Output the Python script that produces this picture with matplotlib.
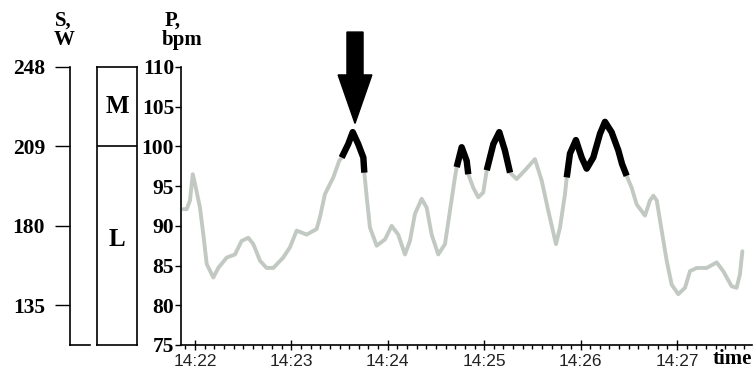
import numpy as np
import matplotlib
matplotlib.use('Agg')
import matplotlib.pyplot as plt
from matplotlib.ticker import MultipleLocator
from matplotlib.patches import FancyArrow

# pulse trace, seconds after 14:22:00 and bpm
t_sec = [-7.3, -5.2, -3.1, -1.4, 0, 3.1, 5.2, 7.3, 11.4, 14.5, 19.7, 24.9, 29.0, 33.2,
         36.3, 40.5, 44.6, 48.7, 54.9, 59.1, 63.3, 69.5, 75.7, 77.8, 80.9, 86.1, 89.8,
         91.3, 95.4, 98.2, 101.6, 104.8, 105.4, 106.9, 108.9, 113.1, 118.3, 122.4, 126.5,
         130.7, 133.8, 136.9, 141.1, 144.2, 147.3, 151.4, 155.6, 158.7, 161.8, 162.9,
         166.0, 169.1, 170.1, 173.2, 176.3, 179.4, 181.6, 185.7, 189.4, 192.9, 196.1,
         200.2, 205.4, 211.6, 215.8, 219.9, 224.7, 227.2, 230.3, 231.4, 233.4, 237.1,
         240.7, 243.8, 247.9, 252.1, 255.2, 259.3, 263.5, 265.8, 268.7, 271.8, 274.9,
         280.1, 283.2, 285.3, 287.4, 290.5, 293.6, 296.7, 300.8, 305.0, 308.1, 312.3,
         318.5, 324.7, 328.8, 334.0, 337.1, 339.2, 340.7]
pulse = [92.1, 92.1, 93.2, 96.5, 95.3, 92.3, 88.9, 85.2, 83.5, 84.7, 86.0, 86.4, 88.1, 88.5,
         87.7, 85.6, 84.7, 84.7, 86.0, 87.3, 89.4, 88.9, 89.6, 91.1, 94.0, 96.1, 98.2,
         98.6, 100.3, 101.8, 100.3, 98.6, 96.7, 93.6, 89.8, 87.5, 88.3, 90.0, 88.9,
         86.4, 88.1, 91.5, 93.4, 92.3, 88.9, 86.4, 87.7, 91.9, 96.1, 97.4,
         99.9, 98.2, 96.5, 94.8, 93.6, 94.2, 97.0, 100.3, 101.8, 99.5, 96.7,
         95.9, 97.0, 98.4, 95.7, 91.9, 87.7, 89.8, 94.0, 96.1, 99.1, 100.8,
         98.6, 97.2, 98.6, 101.6, 103.1, 101.8, 99.5, 97.8, 96.3, 94.8, 92.7,
         91.3, 93.2, 93.8, 93.2, 89.4, 85.6, 82.6, 81.4, 82.2, 84.3, 84.7,
         84.7, 85.4, 84.3, 82.4, 82.2, 83.9, 86.8]

# stretches drawn in black (zone M)
high_spans = [(91.3, 105.4), (162.9, 170.1), (181.6, 196.1), (231.4, 268.7)]

time_ticks = [0, 60, 120, 180, 240, 300]
time_labels = ['14:22', '14:23', '14:24', '14:25', '14:26', '14:27']
p_ticks = [75, 80, 85, 90, 95, 100, 105, 110]
s_pos = [110, 100, 90, 80]
s_labels = ['248', '209', '180', '135']
zone_split = 100

serif = 'Liberation Serif'
W, H = 755, 378
fig = plt.figure(figsize=(W / 100, H / 100), dpi=100)

def box(x0, x1, y0=67, y1=345):
    return [x0 / W, 1 - y1 / H, (x1 - x0) / W, (y1 - y0) / H]

# main pulse axes
ax = fig.add_axes(box(181, 752))
t = np.array(t_sec)
p = np.array(pulse)
mask = np.zeros(len(t), bool)
for a, b in high_spans:
    mask |= (t >= a) & (t <= b)
ax.plot(t, p, color='#c2c9c2', lw=2.8, solid_capstyle='round', solid_joinstyle='round')
ax.plot(t, np.where(mask, p, np.nan), color='black', lw=4.6, solid_capstyle='butt',
        solid_joinstyle='round')
ax.set_xlim(-8.7, 346.7)
ax.set_ylim(75, 110)
for s in ['top', 'right']:
    ax.spines[s].set_visible(False)
for s in ['left', 'bottom']:
    ax.spines[s].set_linewidth(1.2)
ax.set_yticks(p_ticks)
ax.set_yticklabels([str(v) for v in p_ticks], fontfamily=serif, fontweight='bold', fontsize=15.5)
ax.tick_params(axis='y', direction='out', length=4, width=1, pad=1)
ax.set_xticks(time_ticks)
ax.set_xticklabels(time_labels, fontfamily='Liberation Sans', fontsize=12.5, color='#222222')
ax.xaxis.set_minor_locator(MultipleLocator(6))
ax.tick_params(axis='x', which='major', direction='inout', length=7, width=1, pad=3)
ax.tick_params(axis='x', which='minor', direction='out', length=3, width=1)

# arrow at first peak
ax.add_patch(FancyArrow(99.6, 114.4, 0, -11.5, width=10, head_width=21, head_length=6.1,
                        length_includes_head=True, color='black', clip_on=False))

# S axis
axs = fig.add_axes(box(70, 90))
axs.set_ylim(75, 110)
axs.set_xlim(0, 1)
axs.spines['top'].set_visible(False)
axs.spines['right'].set_visible(False)
axs.spines['left'].set_linewidth(1.2)
axs.spines['bottom'].set_linewidth(1.2)
axs.set_xticks([])
axs.set_yticks(s_pos)
axs.set_yticklabels(s_labels, fontfamily=serif, fontweight='bold', fontsize=15.5)
axs.tick_params(axis='y', direction='out', length=11, width=1, pad=7)
axs.patch.set_visible(False)

# zone column
axz = fig.add_axes(box(97, 137))
axz.set_ylim(75, 110)
axz.set_xlim(0, 1)
axz.set_xticks([])
axz.set_yticks([])
for s in axz.spines.values():
    s.set_linewidth(1.2)
axz.axhline(zone_split, color='black', lw=1.2)
axz.text(0.5, 105, 'M', ha='center', va='center', fontfamily=serif, fontweight='bold', fontsize=18)
axz.text(0.5, 88.3, 'L', ha='center', va='center', fontfamily=serif, fontweight='bold', fontsize=18)

# headers
hd = dict(fontfamily=serif, fontweight='bold', fontsize=15, va='center')
fig.text(55 / W, 1 - 21 / H, 'S,', ha='left', **hd)
fig.text(54 / W, 1 - 40 / H, 'W', ha='left', **hd)
fig.text(165 / W, 1 - 21 / H, 'P,', ha='left', **hd)
fig.text(162 / W, 1 - 40 / H, 'bpm', ha='left', **hd)
fig.text(752 / W, 1 - 359 / H, 'time', ha='right', **hd)

fig.savefig('out.png', dpi=100)
